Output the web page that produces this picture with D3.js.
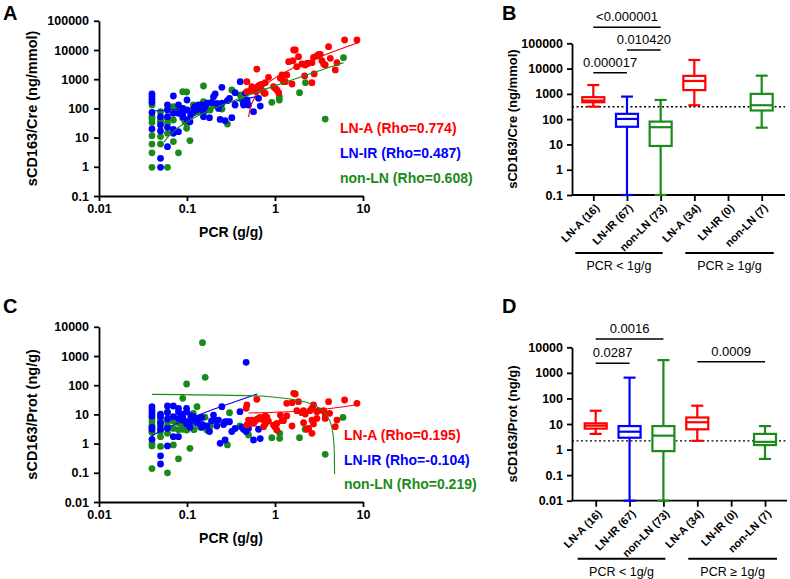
<!DOCTYPE html>
<html><head><meta charset="utf-8">
<script src="https://cdn.jsdelivr.net/npm/d3@7"></script>
<style>
html,body{margin:0;padding:0;background:#fff;}
svg{display:block;font-family:"Liberation Sans",Arial,sans-serif;}
</style></head>
<body><svg id="chart" width="790" height="579"></svg>
<script>
// ---------------- DATA ----------------
const pcrTicks = [0.01, 0.1, 1, 10];
const creTicks = [0.1, 1, 10, 100, 1000, 10000, 100000];
const protTicks = [0.01, 0.1, 1, 10, 100, 1000, 10000];

// Panel A: PCR (g/g) vs sCD163/Cre (ng/mmol)
const aRed = [[6.18,22000],[8.54,22000],[4.06,13000],[1.63,10000],[1.70,10000],[1.85,5910],[3.13,7100],[3.27,7100],[2.99,6230],
  [1.43,3980],[1.60,4310],[2.74,5610],[2.63,3680],[2.41,3490],[2.21,3060],[2.31,3490],[2.02,3320],[1.77,2690],[3.41,4310],
  [3.57,3320],[3.72,3060],[4.25,5180],[5.06,3680],[4.84,2070],[0.622,2230],[1.20,1390],[1.36,1390],[1.15,1070],[2.17,1290],
  [2.79,1510],[2.63,760],[1.56,685],[1.25,823],[1.31,823],[0.479,823],[0.843,1160],[0.774,760],[0.709,667],[0.679,633],
  [0.650,585],[0.622,513],[0.596,487],[0.570,427],[0.523,405],[0.479,374],[0.546,555],[0.611,374],[0.741,374],[0.774,328],
  [0.961,555],[1.005,487],[1.05,427],[1.10,346],[0.754,328]];
const aBlue = [[0.04,311],[0.04,252],[0.04,204],[0.04,161],[0.04,73],[0.04,19.7],
  [0.05,52],[0.05,27],[0.05,16.8],[0.05,1.95],[0.05,0.96],
  [0.06,131],[0.06,52],[0.06,22.5],[0.06,4.9],
  [0.07,266],[0.07,68],[0.07,19.2],[0.07,14],
  [0.08,131],[0.08,68],[0.08,16],[0.09,100],[0.09,52],
  [0.1,194],[0.1,88],[0.1,40],[0.108,35],
  [0.118,77],[0.124,115],[0.135,131],[0.147,131],[0.154,77],[0.161,115],[0.154,52],[0.18,48],
  [0.2,252],[0.209,311],[0.249,527],[0.218,149],[0.228,100],[0.238,42],[0.271,38],[0.288,184],[0.304,221],[0.323,48],
  [0.352,346],[0.352,131],[0.402,823],[0.438,149],[0.479,184],
  [0.46,329],[0.48,194],[0.44,131],[0.50,131],[0.57,77],[0.65,221],[0.68,120],
  [0.13,90],[0.17,150],[0.11,60],[0.14,100],[0.25,150],[0.09,75],[0.19,160],[0.06,90],[0.12,100]];
const aGreen = [[0.04,131],[0.04,52],[0.04,33],[0.04,11.6],[0.04,6.0],[0.04,3.0],[0.04,0.96],
  [0.05,77],[0.05,35],[0.05,10.8],[0.05,6.0],
  [0.06,88],[0.06,31],[0.06,14],[0.06,0.96],
  [0.07,115],[0.07,7.3],[0.08,88],[0.08,3.0],
  [0.0895,374],[0.099,365],[0.0895,46],[0.095,35],[0.099,20.8],[0.108,7.9],
  [0.118,131],[0.135,77],[0.154,585],[0.154,170],[0.168,88],[0.183,88],
  [0.288,29],[0.323,427],[0.402,288],[0.479,170],
  [0.42,200],[0.92,161],[1.12,252],[1.12,194],[1.20,1070],[1.9,345],[2.22,760],[6.0,5450],[3.72,43],
  [0.04,45],[0.05,40],[0.06,45],[0.07,40],[0.1,30],[0.12,70],[0.14,100],[0.16,150],[0.2,130],[0.25,95],[0.6,400],[0.7,450]];

// Panel C: PCR (g/g) vs sCD163/Prot (ng/g)
const cRed = [[1.63,52.7],[1.70,50],[4.06,27.3],[6.18,31.1],[8.54,23.9],[0.622,32.8],[0.479,21.0],[0.47,16.1],[1.36,23.9],
  [1.56,25.2],[1.85,27.3],[2.74,21.0],[2.63,16.1],[2.51,13.4],[2.11,13.4],[2.21,10.3],[2.02,11.5],[1.77,13.4],[3.13,13.4],
  [2.99,12.4],[3.57,13.4],[3.72,10.3],[4.17,10.9],[5.06,6.4],[4.84,3.8],[3.72,7.3],[2.99,7.3],[2.63,6.4],[2.31,3.1],
  [2.41,3.3],[2.63,2.25],[2.11,5.2],[2.74,4.7],[1.56,4.0],[1.20,6.1],[1.25,6.1],[1.15,9.5],[1.36,8.8],[0.961,4.3],
  [1.005,3.6],[1.05,2.9],[1.05,4.9],[0.843,5.9],[0.81,7.9],[0.774,8.8],[0.709,6.8],[0.679,7.9],[0.650,7.3],[0.622,6.8],
  [0.596,5.9],[0.570,4.9],[0.546,6.4],[0.523,5.6],[0.50,6.4],[0.479,4.3],[0.741,3.8],[0.774,4.7]];
const cBlue = [[0.04,18.4],[0.04,14.2],[0.04,11.4],[0.04,8.8],[0.04,3.6],[0.04,3.1],[0.04,1.40],
  [0.05,10.3],[0.05,8.4],[0.05,3.1],[0.05,0.38],[0.05,0.20],
  [0.06,19.4],[0.06,11.4],[0.06,3.3],[0.06,0.83],
  [0.07,19.4],[0.07,8.4],[0.07,1.73],
  [0.08,16.1],[0.08,12.4],[0.08,7.3],[0.08,1.73],
  [0.0895,7.9],[0.0895,6.4],[0.099,16.1],[0.099,12.4],[0.099,5.6],[0.099,4.7],
  [0.108,5.6],[0.108,3.6],[0.118,8.4],[0.124,6.4],[0.135,7.3],[0.147,7.9],[0.147,3.6],[0.168,4.0],[0.18,2.6],
  [0.2,9.5],[0.209,6.4],[0.218,4.0],[0.228,6.4],[0.249,18.4],[0.238,1.02],[0.271,1.33],[0.271,5.6],[0.288,5.6],
  [0.304,5.6],[0.323,2.6],[0.352,3.3],[0.40,12.4],[0.438,3.1],[0.47,607],
  [0.42,3.6],[0.46,2.9],[0.47,2.6],[0.57,1.33],[0.65,3.1],[0.68,1.49],[0.50,3.3],
  [0.13,5],[0.11,9],[0.15,4.5],[0.19,6],[0.26,4.5],[0.09,10],[0.06,7],[0.05,5]];
const cGreen = [[0.04,7.3],[0.04,5.6],[0.04,2.6],[0.04,2.4],[0.04,1.02],[0.04,0.83],[0.04,0.14],
  [0.05,7.3],[0.05,5.6],[0.05,2.6],[0.05,1.73],[0.05,0.80],
  [0.06,12.4],[0.06,5.6],[0.06,2.25],[0.06,0.10],
  [0.07,3.3],[0.07,0.90],[0.08,5.2],[0.08,0.30],
  [0.0895,35.5],[0.0895,4.0],[0.0895,3.1],[0.095,3.8],[0.099,110],[0.099,2.9],[0.108,0.69],
  [0.118,10.9],[0.13,18.4],[0.142,3.6],[0.15,2860],[0.161,186],[0.168,2.9],[0.183,4.0],[0.288,0.90],[0.304,11.4],[0.40,4.0],
  [0.50,1.97],[0.92,1.6],[1.13,2.25],[1.13,1.51],[1.90,1.6],[2.2,3.1],[3.72,0.43],[5.92,7.9],
  [0.04,4],[0.05,4],[0.06,4],[0.07,6],[0.08,3],[0.1,3],[0.12,3],[0.14,5],[0.16,8],[0.11,4.5]];

// Fit lines
const fitARed = [[0.5,50],[0.52,93],[0.55,156],[0.6,262],[0.7,474],[0.8,686],[1,1110],[1.5,2170],[2,3229],[3,5348],[5,9586],[8.8,17640]];
const fitABlue = [[0.04,81],[0.1,99],[0.2,130],[0.3,160],[0.4,190],[0.5,220],[0.65,266]];
const fitAGreen = [[0.055,7],[0.06,10],[0.07,16],[0.1,35],[0.2,97],[0.5,283],[1,593],[2,1213],[4,2453],[6,3693]];
const fitCRed = [[0.5,11.2],[1,11.8],[2,13.1],[4,15.7],[6,18.3],[8.8,21.9]];
const fitCBlue = [[0.04,1.87],[0.06,3.5],[0.1,6.8],[0.2,14.9],[0.4,31.2],[0.63,50]];
const fitCGreen = [[0.04,48.6],[0.5,43.9],[1,38.7],[2,28.4],[3,18.2],[4,7.9],[4.5,2.7],[4.6,1.7],[4.7,0.68],[4.73,0.38],[4.758,0.09]];

const legendA = ["LN-A (Rho=0.774)", "LN-IR (Rho=0.487)", "non-LN (Rho=0.608)"];
const legendC = ["LN-A (Rho=0.195)", "LN-IR (Rho=-0.104)", "non-LN (Rho=0.219)"];

// Box plots: [min, q1, median, q3, max]
const categories = ["LN-A (16)", "LN-IR (67)", "non-LN (73)", "LN-A (34)", "LN-IR (0)", "non-LN (7)"];
const catGroup = ["LN-A", "LN-IR", "non-LN", "LN-A", "LN-IR", "non-LN"];
const boxB = [[312,466,540,740,2240],[0.1,50,102,162,780],[0.1,8.7,48,80,575],[355,1410,3240,5150,21900],null,[46,220,355,1000,5250]];
const boxD = [[4.1,6.6,8.6,10.6,33],[0.01,2.9,5,8.3,650],[0.01,0.87,3.5,8.3,3150],[2.2,6.2,11.7,18,52],null,[0.43,1.5,2.0,4.1,8.3]];
const cutB = 310, cutD = 2.2;
const bracketsB = [{from:0,to:1,y:6900,label:"0.000017"},{from:1,to:2,y:54300,label:"0.010420"},{from:0,to:2,y:429000,label:"<0.000001"}];
const bracketsD = [{from:0,to:1,y:2370,label:"0.0287"},{from:0,to:2,y:21100,label:"0.0016"},{from:3,to:5,y:2740,label:"0.0009"}];
const groups = [{label:"PCR < 1g/g",from:0,to:2},{label:"PCR \u2265 1g/g",from:3,to:5}];

// ---------------- DRAWING ----------------
const colors = {"LN-A":"#ff0000","LN-IR":"#0000ff","non-LN":"#1b8a1b"};
const svg = d3.select("#chart");
svg.append("rect").attr("width",790).attr("height",579).attr("fill","#fff");
const fmt = d => String(d);

function styleAxis(g, fs){
  g.selectAll("path.domain").attr("stroke","#000").attr("stroke-width",1.8);
  g.selectAll(".tick line").attr("stroke","#000").attr("stroke-width",1.8);
  g.selectAll(".tick text").attr("fill","#000").attr("font-size",fs).attr("font-weight","bold")
    .attr("font-family","'Liberation Sans',Arial,sans-serif");
}

function panelLetter(txt,x,y){
  svg.append("text").attr("x",x).attr("y",y).text(txt).attr("font-size",20).attr("font-weight","bold").attr("fill","#000");
}

function scatterPanel(opt){
  const x = d3.scaleLog().domain([0.01,10]).range([99,363]);
  const y = d3.scaleLog().domain(opt.yDomain).range(opt.yRange);
  const g = svg.append("g");
  [["non-LN",opt.green],["LN-IR",opt.blue],["LN-A",opt.red]].forEach(([k,arr])=>{
    g.append("g").selectAll("circle").data(arr).join("circle")
      .attr("cx",d=>x(d[0])).attr("cy",d=>y(d[1])).attr("r",3.4).attr("fill",colors[k]);
  });
  const line = d3.line().x(d=>x(d[0])).y(d=>y(d[1])).curve(d3.curveMonotoneX);
  [["LN-A",opt.fitRed],["LN-IR",opt.fitBlue],["non-LN",opt.fitGreen]].forEach(([k,arr])=>{
    g.append("path").datum(arr).attr("d",line).attr("fill","none").attr("stroke",colors[k]).attr("stroke-width",1.1);
  });
  const ya = g.append("g").attr("transform",`translate(99,0)`)
    .call(d3.axisLeft(y).tickValues(opt.yTicks).tickFormat(fmt).tickSize(5).tickSizeOuter(0).tickPadding(5));
  styleAxis(ya,12.5);
  const xa = g.append("g").attr("transform",`translate(0,${opt.yRange[0]})`)
    .call(d3.axisBottom(x).tickValues(pcrTicks).tickFormat(fmt).tickSize(5).tickSizeOuter(0).tickPadding(3));
  styleAxis(xa,12.5);
  g.append("text").attr("x",231).attr("y",opt.yRange[0]+41).attr("text-anchor","middle")
    .attr("font-size",14).attr("font-weight","bold").text("PCR (g/g)");
  const cy = (opt.yRange[0]+opt.yRange[1])/2;
  g.append("text").attr("transform",`translate(37,${cy}) rotate(-90)`).attr("text-anchor","middle")
    .attr("font-size",14.5).attr("font-weight","bold").text(opt.yTitle);
  opt.legend.forEach((t,i)=>{
    g.append("text").attr("x",opt.legX).attr("y",opt.legY[i]).attr("font-size",14).attr("font-weight","bold")
      .attr("fill",colors[["LN-A","LN-IR","non-LN"][i]]).text(t);
  });
}

function boxPanel(opt){
  const x = d3.scalePoint().domain(d3.range(categories.length)).range(opt.xRange);
  const y = d3.scaleLog().domain(opt.yDomain).range(opt.yRange);
  const g = svg.append("g");
  const axisY = opt.yRange[0];
  g.append("line").attr("x1",572).attr("x2",opt.axisEnd).attr("y1",y(opt.cut)).attr("y2",y(opt.cut))
    .attr("stroke","#000").attr("stroke-width",1.3).attr("stroke-dasharray","2,2.5");
  const xa = g.append("g").attr("transform",`translate(0,${axisY})`)
    .call(d3.axisBottom(x).tickFormat(()=> "").tickSize(6).tickSizeOuter(0));
  xa.select("path.domain").attr("d",`M572,0H${opt.axisEnd}`);
  styleAxis(xa,11);
  const bw = 22, cw = 12;
  opt.boxes.forEach((b,i)=>{
    if(!b) return;
    const c = colors[catGroup[i]], cx = x(i);
    const bg = g.append("g").attr("stroke",c).attr("stroke-width",2.2).attr("fill","none");
    bg.append("line").attr("x1",cx).attr("x2",cx).attr("y1",y(b[0])).attr("y2",y(b[1]));
    bg.append("line").attr("x1",cx).attr("x2",cx).attr("y1",y(b[3])).attr("y2",y(b[4]));
    bg.append("line").attr("x1",cx-cw/2).attr("x2",cx+cw/2).attr("y1",y(b[0])).attr("y2",y(b[0]));
    bg.append("line").attr("x1",cx-cw/2).attr("x2",cx+cw/2).attr("y1",y(b[4])).attr("y2",y(b[4]));
    bg.append("rect").attr("x",cx-bw/2).attr("width",bw).attr("y",y(b[3])).attr("height",y(b[1])-y(b[3])).attr("fill","#fff");
    bg.append("line").attr("x1",cx-bw/2).attr("x2",cx+bw/2).attr("y1",y(b[2])).attr("y2",y(b[2]));
  });
  const ya = g.append("g").attr("transform",`translate(572,0)`)
    .call(d3.axisLeft(y).tickValues(opt.yTicks).tickFormat(fmt).tickSize(5).tickSizeOuter(0).tickPadding(4));
  styleAxis(ya,12.5);
  const cy = (opt.yRange[0]+opt.yRange[1])/2;
  g.append("text").attr("transform",`translate(517,${cy}) rotate(-90)`).attr("text-anchor","middle")
    .attr("font-size",13).attr("font-weight","bold").text(opt.yTitle);
  categories.forEach((t,i)=>{
    g.append("text").attr("transform",`translate(${x(i)+4},${axisY+11}) rotate(-45)`)
      .attr("text-anchor","end").attr("dy","0.35em").attr("font-size",11).attr("font-weight","bold").text(t);
  });
  groups.forEach((gr,j)=>{
    const x1 = x(gr.from) - (j===0?18:9), x2 = x(gr.to) + (j===0?2:12);
    g.append("line").attr("x1",x1).attr("x2",x2).attr("y1",axisY+58).attr("y2",axisY+58).attr("stroke","#000").attr("stroke-width",2);
    g.append("text").attr("x",(x1+x2)/2).attr("y",axisY+75).attr("text-anchor","middle").attr("font-size",12.5).text(gr.label);
  });
  opt.brackets.forEach(br=>{
    const yy = y(br.y);
    g.append("line").attr("x1",x(br.from)).attr("x2",x(br.to)).attr("y1",yy).attr("y2",yy).attr("stroke","#000").attr("stroke-width",1.5);
    g.append("text").attr("x",(x(br.from)+x(br.to))/2).attr("y",yy-6).attr("text-anchor","middle").attr("font-size",13).text(br.label);
  });
}

scatterPanel({yDomain:[0.1,100000],yRange:[196,20.8],yTicks:creTicks,red:aRed,blue:aBlue,green:aGreen,
  fitRed:fitARed,fitBlue:fitABlue,fitGreen:fitAGreen,yTitle:"sCD163/Cre (ng/mmol)",legend:legendA,legX:340,legY:[133,158,183]});
scatterPanel({yDomain:[0.01,10000],yRange:[502,326.8],yTicks:protTicks,red:cRed,blue:cBlue,green:cGreen,
  fitRed:fitCRed,fitBlue:fitCBlue,fitGreen:fitCGreen,yTitle:"sCD163/Prot (ng/g)",legend:legendC,legX:344,legY:[440,465,489]});
boxPanel({yDomain:[0.1,100000],yRange:[195,43.3],yTicks:creTicks,xRange:[593.3,761.7],axisEnd:785,boxes:boxB,cut:cutB,
  brackets:bracketsB,yTitle:"sCD163/Cre (ng/mmol)"});
boxPanel({yDomain:[0.01,10000],yRange:[500.7,347.3],yTicks:protTicks,xRange:[595.7,765],axisEnd:787,boxes:boxD,cut:cutD,
  brackets:bracketsD,yTitle:"sCD163/Prot (ng/g)"});

panelLetter("A",3,20);
panelLetter("B",502,20);
panelLetter("C",3,313);
panelLetter("D",502,313);
</script>
</body></html>
